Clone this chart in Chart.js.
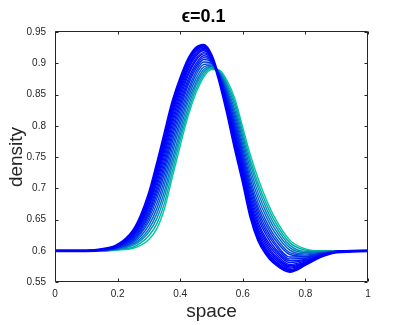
<!DOCTYPE html>
<html><head><meta charset="utf-8">
<script src="https://cdn.jsdelivr.net/npm/chart.js@4/dist/chart.umd.min.js"></script>
<style>html,body{margin:0;padding:0;background:#fff}canvas{display:block}</style>
</head><body>
<canvas id="c" width="407" height="325"></canvas>
<script>
// ---- data ----
const spaceX = [0, 0.1, 0.15, 0.2, 0.25, 0.275, 0.3, 0.325, 0.35, 0.375, 0.4, 0.425, 0.45, 0.475, 0.5, 0.525, 0.55, 0.575, 0.6, 0.625, 0.65, 0.675, 0.7, 0.75, 0.8, 0.85, 0.9, 1];
const density00 = [.600,.600,.600,.601,.604,.609,.618,.635,.668,.718,.768,.815,.852,.878,.890,.889,.872,.843,.797,.752,.714,.682,.655,.617,.603,.600,.600,.600];
const density01 = [.600,.600,.600,.602,.606,.613,.624,.643,.677,.727,.777,.822,.858,.882,.892,.888,.868,.837,.790,.744,.706,.675,.649,.613,.601,.599,.600,.600];
const density02 = [.600,.600,.600,.602,.609,.617,.630,.651,.687,.737,.785,.829,.864,.886,.894,.886,.864,.831,.783,.737,.699,.668,.643,.609,.599,.599,.600,.600];
const density03 = [.600,.600,.600,.603,.611,.620,.635,.659,.696,.746,.793,.837,.869,.890,.895,.885,.860,.824,.777,.729,.691,.661,.637,.605,.597,.598,.599,.600];
const density04 = [.600,.600,.601,.604,.613,.624,.641,.667,.706,.756,.802,.844,.875,.894,.897,.884,.856,.818,.770,.721,.683,.654,.631,.601,.595,.597,.599,.600];
const density05 = [.600,.600,.601,.604,.615,.628,.647,.675,.715,.765,.810,.851,.881,.898,.899,.883,.852,.812,.763,.713,.675,.647,.625,.597,.593,.596,.599,.600];
const density06 = [.600,.600,.601,.605,.617,.631,.652,.683,.724,.774,.818,.857,.886,.902,.900,.881,.849,.806,.757,.706,.668,.641,.620,.594,.591,.596,.599,.600];
const density07 = [.600,.600,.601,.605,.619,.634,.657,.690,.732,.782,.825,.864,.891,.906,.902,.880,.845,.801,.751,.700,.662,.635,.615,.590,.590,.595,.599,.600];
const density08 = [.600,.600,.601,.606,.621,.637,.661,.696,.739,.789,.832,.869,.895,.909,.903,.879,.842,.796,.746,.694,.656,.630,.611,.587,.588,.595,.599,.600];
const density09 = [.600,.600,.601,.606,.623,.640,.665,.702,.746,.796,.838,.874,.899,.912,.904,.878,.839,.791,.741,.688,.650,.625,.606,.584,.586,.594,.599,.600];
const density10 = [.600,.600,.601,.607,.624,.643,.670,.708,.753,.803,.844,.880,.904,.915,.906,.877,.836,.787,.736,.682,.644,.619,.602,.581,.585,.593,.599,.600];
const density11 = [.600,.600,.602,.607,.626,.645,.673,.713,.759,.809,.850,.884,.907,.917,.907,.877,.833,.783,.731,.677,.639,.615,.598,.578,.584,.593,.598,.600];
const density12 = [.600,.600,.602,.608,.627,.647,.677,.718,.765,.815,.855,.889,.911,.920,.908,.876,.831,.779,.727,.672,.634,.611,.594,.576,.582,.593,.598,.600];
const density13 = [.600,.600,.602,.608,.628,.650,.680,.722,.770,.820,.860,.893,.914,.922,.909,.875,.829,.775,.723,.668,.630,.607,.591,.574,.581,.592,.598,.600];
const density14 = [.600,.600,.602,.608,.629,.651,.683,.726,.775,.825,.864,.896,.917,.924,.910,.874,.827,.772,.720,.664,.626,.603,.588,.572,.580,.592,.598,.600];
const density15 = [.600,.600,.602,.608,.630,.653,.686,.730,.779,.829,.868,.900,.920,.926,.911,.874,.825,.770,.717,.661,.623,.600,.585,.570,.579,.591,.598,.600];
const density16 = [.600,.600,.602,.609,.631,.655,.688,.733,.782,.832,.871,.902,.922,.927,.911,.873,.823,.767,.714,.658,.620,.598,.583,.568,.579,.591,.598,.600];
const density17 = [.600,.600,.602,.609,.632,.656,.690,.736,.786,.836,.874,.905,.924,.929,.912,.873,.822,.765,.712,.655,.617,.595,.581,.567,.578,.591,.598,.600];
const xTickValues = [0, 0.2, 0.4, 0.6, 0.8, 1];
const xTickLabels = ['0', '0.2', '0.4', '0.6', '0.8', '1'];
const yTickValues = [0.55, 0.6, 0.65, 0.7, 0.75, 0.8, 0.85, 0.9, 0.95];
const yTickLabels = ['0.55', '0.6', '0.65', '0.7', '0.75', '0.8', '0.85', '0.9', '0.95'];
const titleText = 'ϵ=0.1';
const xTitle = 'space';
const yTitle = 'density';

// ---- styling ----
const profiles = [density00, density01, density02, density03, density04, density05, density06, density07, density08,
                  density09, density10, density11, density12, density13, density14, density15, density16, density17];
const lineColors = ['rgb(0,204,153)','rgb(0,173,169)','rgb(0,144,183)','rgb(0,118,196)','rgb(0,94,208)','rgb(0,73,218)',
                    'rgb(0,57,226)','rgb(0,43,233)','rgb(0,33,239)','rgb(0,24,243)','rgb(0,16,247)','rgb(0,11,250)',
                    'rgb(0,7,252)','rgb(0,4,253)','rgb(0,2,254)','rgb(0,1,255)','rgb(0,0,255)','rgb(0,0,255)'];
const FONT = "'Liberation Sans', Arial, Helvetica, sans-serif";
const INK = '#262626';

const datasets = profiles.map((ys, k) => ({
  data: spaceX.map((x, i) => ({x, y: ys[i]})),
  borderColor: lineColors[k],
  borderWidth: k === profiles.length - 1 ? 3 : 1.4,
  pointRadius: 0,
  fill: false,
  cubicInterpolationMode: 'monotone',
  order: profiles.length - 1 - k
}));

const frame = {
  id: 'frame',
  afterDatasetsDraw(chart) {
    const {ctx, chartArea: a, scales: {x, y}} = chart;
    const L = Math.floor(a.left) + 0.5, R = Math.floor(a.right) - 0.5;
    const T = Math.floor(a.top) + 0.5, B = Math.floor(a.bottom) - 0.5;
    ctx.save();
    ctx.strokeStyle = INK; ctx.lineWidth = 1;
    ctx.beginPath();
    ctx.rect(L, T, R - L, B - T);
    const tl = 3;
    xTickValues.forEach(v => {
      const p = Math.round(x.getPixelForValue(v)) + 0.5;
      ctx.moveTo(p, B); ctx.lineTo(p, B - tl);
      ctx.moveTo(p, T); ctx.lineTo(p, T + tl);
    });
    yTickValues.forEach(v => {
      const p = Math.round(y.getPixelForValue(v)) + 0.5;
      ctx.moveTo(L, p); ctx.lineTo(L + tl, p);
      ctx.moveTo(R, p); ctx.lineTo(R - tl, p);
    });
    ctx.stroke();
    ctx.restore();
  }
};

new Chart(document.getElementById('c'), {
  type: 'line',
  data: {datasets},
  plugins: [frame],
  options: {
    responsive: false,
    animation: false,
    events: [],
    layout: {padding: 0},
    plugins: {
      legend: {display: false},
      tooltip: {enabled: false},
      title: {
        display: true, text: titleText, color: '#000',
        font: {family: FONT, size: 18, weight: 'bold'},
        padding: {top: 6.6, bottom: 3.8}
      }
    },
    scales: {
      x: {
        type: 'linear', min: 0, max: 1,
        afterBuildTicks: s => { s.ticks = xTickValues.map(v => ({value: v})); },
        afterFit: s => { s.height = 43; },
        grid: {display: false, drawTicks: false},
        border: {display: false},
        ticks: {color: INK, font: {family: FONT, size: 10}, padding: 6, maxRotation: 0,
                callback: (v, i) => xTickLabels[i]},
        title: {display: true, text: xTitle, color: INK, font: {family: FONT, size: 19},
                padding: {top: 0, bottom: 1.6}}
      },
      y: {
        type: 'linear', min: 0.55, max: 0.95,
        afterBuildTicks: s => { s.ticks = yTickValues.map(v => ({value: v})); },
        afterFit: s => { s.width = 55; },
        grid: {display: false, drawTicks: false},
        border: {display: false},
        ticks: {color: INK, font: {family: FONT, size: 10}, padding: 9,
                callback: (v, i) => yTickLabels[i]},
        title: {display: true, text: yTitle, color: INK, font: {family: FONT, size: 19},
                padding: {top: 5, bottom: 0}}
      },
      spacer: {
        type: 'linear', position: 'right', display: true,
        afterFit: s => { s.width = 39; },
        grid: {display: false, drawTicks: false},
        border: {display: false},
        ticks: {display: false},
        title: {display: false}
      }
    }
  }
});
</script>
</body></html>
